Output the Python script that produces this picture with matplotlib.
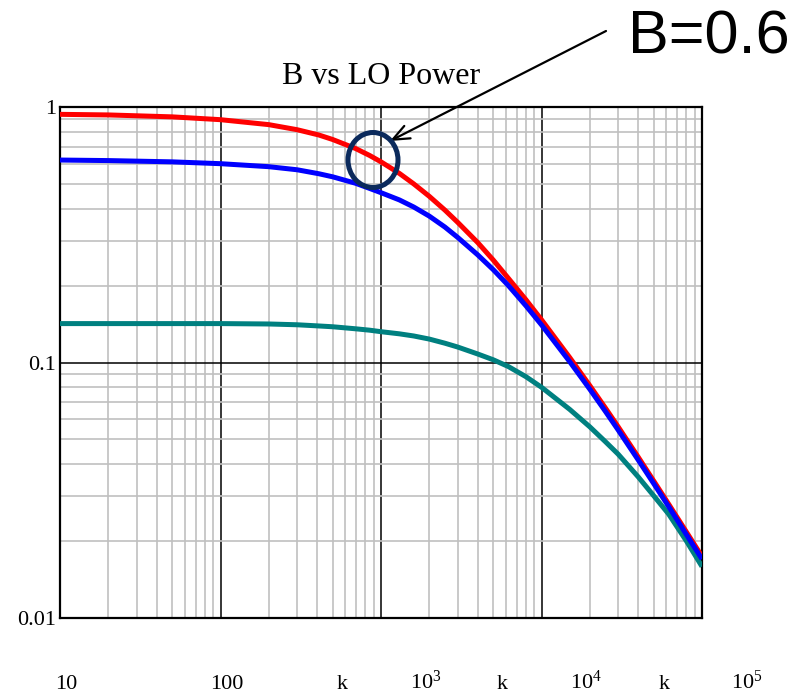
import numpy as np
import matplotlib.pyplot as plt
from matplotlib.patches import Ellipse
from matplotlib.transforms import blended_transform_factory
from matplotlib.ticker import LogLocator, NullFormatter, FixedLocator, FixedFormatter

plt.rcParams['mathtext.fontset'] = 'custom'
plt.rcParams['mathtext.rm'] = 'Liberation Serif'

# LO power (x) and B values
x_pts = [10, 20, 50, 100, 200, 300, 410, 500, 694, 850, 1000, 1300, 1600,
         2000, 2500, 3000, 4000, 5000, 6200, 8000, 1e4, 1.5e4, 2e4, 2.5e4,
         3e4, 4e4, 5e4, 6.2e4, 8e4, 1e5]
b_red = [0.936, 0.931, 0.915, 0.892, 0.853, 0.815, 0.777, 0.746, 0.688,
         0.646, 0.61, 0.55, 0.50, 0.447, 0.395, 0.354, 0.295, 0.252, 0.214,
         0.176, 0.147, 0.1045, 0.0812, 0.0664, 0.0561, 0.0427, 0.0344,
         0.0279, 0.0217, 0.0174]
b_blue = [0.62, 0.617, 0.61, 0.60, 0.584, 0.568, 0.548, 0.533, 0.503, 0.48,
          0.462, 0.433, 0.406, 0.374, 0.339, 0.309, 0.264, 0.231, 0.2005,
          0.1667, 0.1404, 0.1007, 0.0786, 0.0644, 0.0545, 0.0416, 0.0336,
          0.0273, 0.0212, 0.0170]
b_teal = [0.142, 0.142, 0.142, 0.142, 0.1415, 0.1405, 0.139, 0.138, 0.1355,
          0.1338, 0.132, 0.1295, 0.127, 0.1235, 0.119, 0.115, 0.108, 0.1025,
          0.0965, 0.088, 0.080, 0.0655, 0.056, 0.049, 0.0438, 0.0357, 0.0301,
          0.0255, 0.0200, 0.0159]

# odd Mathcad-style x labels sitting under the axis
xlab_pos = [10.9, 110, 570, 1900, 5700, 19000, 58000, 190000]
xlab_txt = ['10', '100', 'k', r'$\mathregular{10^{3}}$', 'k',
            r'$\mathregular{10^{4}}$', 'k', r'$\mathregular{10^{5}}$']
ylab_pos = [0.01, 0.1, 1]
ylab_txt = ['0.01', '0.1', '1']

fig = plt.figure(figsize=(8.07, 6.95), dpi=100)
ax = fig.add_axes([60 / 807, 1 - 618 / 695, 642 / 807, 511 / 695])

ax.set_xscale('log')
ax.set_yscale('log')
ax.set_xlim(10, 1e5)
ax.set_ylim(0.01, 1)

# grid: grey minors, black majors
ax.xaxis.set_minor_locator(LogLocator(base=10, subs=np.arange(2, 10)))
ax.yaxis.set_minor_locator(LogLocator(base=10, subs=np.arange(2, 10)))
ax.grid(which='minor', color='#c0c0c0', lw=1.2)
ax.grid(which='major', color='black', lw=1.1)
ax.set_axisbelow(True)
for s in ax.spines.values():
    s.set_linewidth(1.6)

ax.tick_params(which='both', length=0)
ax.xaxis.set_major_formatter(NullFormatter())
ax.xaxis.set_minor_formatter(NullFormatter())
ax.yaxis.set_major_locator(FixedLocator(ylab_pos))
ax.yaxis.set_major_formatter(FixedFormatter(ylab_txt))
ax.yaxis.set_minor_formatter(NullFormatter())
for t in ax.get_yticklabels():
    t.set_fontfamily('Liberation Serif')
    t.set_fontsize(16)
ax.tick_params(axis='y', pad=3)

for yv, col, z in [(b_teal, '#008080', 3), (b_red, '#ff0000', 4), (b_blue, '#0000ff', 5)]:
    ax.plot(x_pts, yv, color=col, lw=3.6, zorder=z,
            solid_joinstyle='round', solid_capstyle='butt')

tr = blended_transform_factory(ax.transData, fig.transFigure)
for xp, tx in zip(xlab_pos, xlab_txt):
    ax.text(xp, 1 - 689 / 695, tx, transform=tr, ha='center', va='baseline',
            fontsize=16, family='Liberation Serif', clip_on=False)

ax.text(0.5, 1 + 23 / 511, 'B vs LO Power', transform=ax.transAxes,
        ha='center', va='baseline', fontsize=23, family='Liberation Serif')

# circle marking B=0.6 and the callout
circ = Ellipse(((373 - 60) / 642, 1 - (160 - 107) / 511), 50 / 642, 55 / 511,
               transform=ax.transAxes, fill=False, ec='#0b2a5c', lw=3.6,
               zorder=6, clip_on=False)
ax.add_patch(circ)

fig.text(628 / 807, 1 - 54 / 695, 'B=0.6', fontsize=44,
         family='Liberation Sans', ha='left', va='baseline')
ax.annotate('', xy=(390 / 807, 1 - 141 / 695), xycoords='figure fraction',
            xytext=(606 / 807, 1 - 31 / 695), textcoords='figure fraction',
            arrowprops=dict(arrowstyle='->,head_length=1.2,head_width=0.5',
                            color='black', lw=1.6, shrinkA=0, shrinkB=0))

fig.savefig('out.png', dpi=100)
